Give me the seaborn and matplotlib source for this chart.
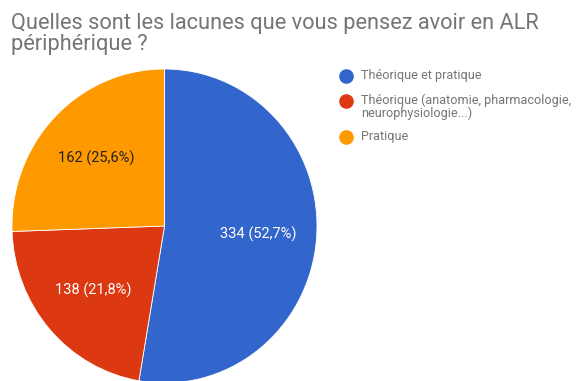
import matplotlib
matplotlib.use("Agg")
import matplotlib.pyplot as plt
import seaborn as sns
from matplotlib.lines import Line2D

sns.set_theme(style="white")
plt.rcParams["font.family"] = ["Roboto", "DejaVu Sans"]

title_lines = ["Quelles sont les lacunes que vous pensez avoir en ALR", "périphérique ?"]
categories = [
    "Théorique et pratique",
    "Théorique (anatomie, pharmacologie,\nneurophysiologie...)",
    "Pratique",
]
counts = [334, 138, 162]
colors = ["#3366CC", "#DC3912", "#FF9900"]
text_colors = ["white", "white", "#212121"]

total = sum(counts)

fig = plt.figure(figsize=(5.76, 3.81), dpi=100)
W, H = 576, 381
# pie area in pixel units (left, top, right, bottom)
pl, pt, pr, pb = 12, 69, 317, 383
ax = fig.add_axes([pl / W, 1 - pb / H, (pr - pl) / W, (pb - pt) / H])


def fmt(p):
    n = round(p * total / 100)
    return f"{n} ({p:.1f}%)".replace(".", ",")


wedges, texts, autotexts = ax.pie(
    counts,
    colors=colors,
    startangle=90,
    counterclock=False,
    autopct=fmt,
    pctdistance=0.62,
    radius=1.0,
    wedgeprops=dict(linewidth=0.6, edgecolor="white"),
    textprops=dict(fontsize=10.5),
)
for t, c in zip(autotexts, text_colors):
    t.set_color(c)
ax.set_aspect("auto")
ax.set_xlim(-1.0, 1.0)
ax.set_ylim(-1.0, 1.0)
ax.axis("off")

# two-line title, each line on its own baseline
for baseline, line in zip([29, 50], title_lines):
    fig.text(11 / W, 1 - baseline / H, line, ha="left", va="baseline",
             fontsize=15.7, color="#757575")

# legend: colored dots aligned with the first line of each entry
legend_rows = [76, 101, 137]
for y, label, c in zip(legend_rows, categories, colors):
    fig.add_artist(Line2D([346 / W], [1 - y / H], marker="o", linestyle="none",
                          markersize=9.5, markerfacecolor=c, markeredgecolor=c,
                          transform=fig.transFigure))
    fig.text(361 / W, 1 - (y - 7) / H, label, ha="left", va="top",
             fontsize=9.1, color="#757575", linespacing=0.9)

fig.savefig("out.png", dpi=100)
